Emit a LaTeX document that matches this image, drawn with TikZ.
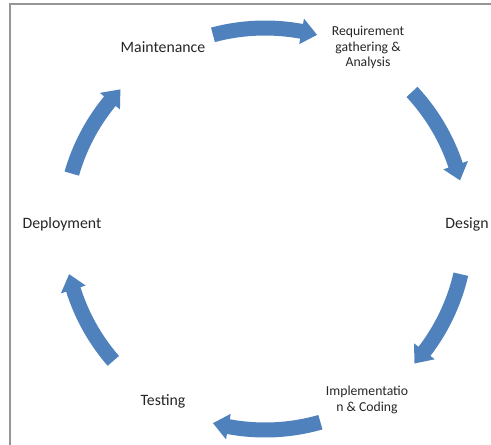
\documentclass[tikz,border=0pt]{standalone}
\usepackage{fontspec}
\setmainfont{Carlito}
\usepackage{tikz}
\usetikzlibrary{positioning}

\definecolor{arrowblue}{RGB}{79,129,189}
\definecolor{framegray}{RGB}{150,150,150}

% one curved block arrow on the cycle, from angle #1 to its tip at angle #2
\newcommand{\cyclearrow}[2]{%
  \pgfmathsetmacro{\hb}{#2-4.5*sign(#2-#1)}
  \fill[arrowblue] (#1:193.5) arc[start angle=#1, end angle=\hb, radius=193.5]
    -- (\hb:188) -- (#2:201) -- (\hb:214) -- (\hb:208.5)
    arc[start angle=\hb, end angle=#1, radius=208.5] -- cycle;
}

\tikzset{
  stage/.style={font=\fontsize{15.8}{19}\selectfont, text=black!85, inner sep=1pt},
  stagetwo/.style={font=\fontsize{13.7}{15.5}\selectfont, text=black!85, align=center, inner sep=1pt}
}

\begin{document}
\begin{tikzpicture}[x=1pt,y=1pt]
    \useasboundingbox (-265,-216) rectangle (226,229);
    \draw[framegray, line width=1.2pt] (-255,-216) -- (-255,225) -- (226,225);

    \node[stage] (maint) at (-102,182) {Maintenance};
    \node[stagetwo] (req) at (103,181.5) {Requirement\\gathering \&\\Analysis};
    \node[stage] (design) at (202,5) {Design};
    \node[stagetwo] (impl) at (102,-171) {Implementatio\\n \& Coding};
    \node[stage] (test) at (-102,-172) {Testing};
    \node[stage] (deploy) at (-203,5) {Deployment};

    \cyclearrow{105}{75}
    \cyclearrow{43}{14}
    \cyclearrow{-13}{-42}
    \cyclearrow{-74}{-105}
    \cyclearrow{-139}{-167}
    \cyclearrow{164}{136}
\end{tikzpicture}
\end{document}
